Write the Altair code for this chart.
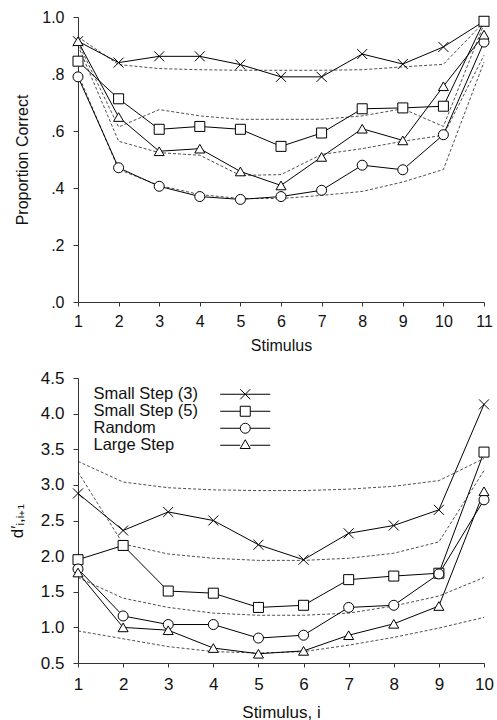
import altair as alt
import pandas as pd

FONT = "Liberation Sans"
SERIES = ["Small Step (3)", "Small Step (5)", "Random", "Large Step"]

# ---- Top panel: proportion correct ----
stim_top = [1, 2, 3, 4, 5, 6, 7, 8, 9, 10, 11]
pc_small3 = [0.915, 0.84, 0.862, 0.862, 0.833, 0.79, 0.79, 0.87, 0.835, 0.895, 0.985]
pc_small5 = [0.845, 0.713, 0.606, 0.616, 0.606, 0.546, 0.593, 0.678, 0.681, 0.687, 0.985]
pc_random = [0.79, 0.471, 0.406, 0.37, 0.36, 0.37, 0.392, 0.48, 0.464, 0.587, 0.912]
pc_large = [0.915, 0.649, 0.529, 0.538, 0.458, 0.409, 0.509, 0.608, 0.567, 0.757, 0.938]

pcm_small3 = [0.93, 0.833, 0.819, 0.815, 0.813, 0.813, 0.813, 0.815, 0.825, 0.834, 0.982]
pcm_small5 = [0.91, 0.614, 0.675, 0.653, 0.641, 0.641, 0.641, 0.653, 0.678, 0.616, 0.975]
pcm_large = [0.90, 0.564, 0.524, 0.515, 0.444, 0.447, 0.518, 0.538, 0.564, 0.585, 0.866]
pcm_random = [0.80, 0.465, 0.409, 0.377, 0.363, 0.363, 0.374, 0.388, 0.421, 0.465, 0.842]

# ---- Bottom panel: d' ----
stim_bot = [1, 2, 3, 4, 5, 6, 7, 8, 9, 10]
d_small3 = [2.88, 2.36, 2.62, 2.50, 2.16, 1.95, 2.32, 2.43, 2.65, 4.13]
d_small5 = [1.95, 2.15, 1.51, 1.48, 1.28, 1.31, 1.67, 1.72, 1.76, 3.46]
d_random = [1.82, 1.16, 1.04, 1.04, 0.85, 0.89, 1.28, 1.31, 1.75, 2.79]
d_large = [1.77, 1.00, 0.96, 0.71, 0.63, 0.67, 0.89, 1.05, 1.30, 2.91]

dm_1 = [3.33, 3.04, 2.96, 2.93, 2.92, 2.92, 2.94, 2.98, 3.06, 3.37]
dm_2 = [3.18, 2.17, 2.03, 1.97, 1.94, 1.94, 1.97, 2.04, 2.20, 3.20]
dm_3 = [1.70, 1.41, 1.28, 1.20, 1.17, 1.17, 1.20, 1.30, 1.44, 1.70]
dm_4 = [0.95, 0.84, 0.73, 0.66, 0.64, 0.66, 0.75, 0.86, 0.99, 1.14]

MARKERS = ["M-1,-1L1,1M-1,1L1,-1", "square", "circle", "triangle-up"]
# legend glyphs: a short line with the marker, drawn to the right of the label
LEGEND_SYMBOLS = [
    "M27,0L37,0M31,-1L33,1M31,1L33,-1",
    "M27,0L31,0M33,0L37,0M31,-1L33,-1L33,1L31,1Z",
    "M27,0L31,0M33,0L37,0M33,0A1,1,0,1,1,31,0A1,1,0,1,1,33,0Z",
    "M27,0L31,0M33,0L37,0M32,-1.1L33,0.65L31,0.65Z",
]


def long_df(xs, arrays, names):
    rows = []
    for name, arr in zip(names, arrays):
        for x, y in zip(xs, arr):
            rows.append({"x": x, "y": y, "series": name})
    return pd.DataFrame(rows)


def panel(xs, obs, model, yaxis, ydomain, xtitle, ytitle, fs, tpad, xlpad, xtpad, legend=False):
    df_obs = long_df(xs, obs, SERIES)
    df_mod = long_df(xs, model, ["m1", "m2", "m3", "m4"])
    xenc = alt.X("x:Q", scale=alt.Scale(domain=[xs[0], xs[-1]], nice=False, zero=False),
                 axis=alt.Axis(values=xs, format="d", title=xtitle, labelFontSize=fs,
                               titleFontSize=fs, labelPadding=xlpad, titlePadding=xtpad,
                               tickSize=4, labelFlush=False))
    yenc = alt.Y("y:Q", scale=alt.Scale(domain=ydomain, nice=False, zero=False),
                 axis=alt.Axis(title=ytitle, labelFontSize=fs, titleFontSize=fs,
                               tickSize=5, labelPadding=9, titlePadding=tpad, **yaxis))
    dashed = alt.Chart(df_mod).mark_line(color="#222", strokeWidth=0.8, strokeDash=[3, 2]).encode(
        x=xenc, y=yenc, detail="series:N")
    solid = alt.Chart(df_obs).mark_line(color="black", strokeWidth=1).encode(
        x=xenc, y=yenc, detail="series:N")
    pts = alt.Chart(df_obs).mark_point(filled=True, fill="white", stroke="black", strokeWidth=1,
                                        size=100, opacity=1).encode(
        x=xenc, y=yenc,
        shape=alt.Shape("series:N", scale=alt.Scale(domain=SERIES, range=MARKERS), legend=None))
    layers = [dashed, solid, pts]
    if legend:
        leg = alt.Chart(df_obs).transform_filter("false").mark_point(
            filled=False, color="black", strokeWidth=1, size=100, opacity=1).encode(
            shape=alt.Shape("series:N", scale=alt.Scale(domain=SERIES, range=LEGEND_SYMBOLS),
                            legend=alt.Legend(orient="none", legendX=-1, legendY=8, title=None,
                                              labelFontSize=16.5, labelFont=FONT, labelColor="#111",
                                              symbolSize=100, symbolStrokeWidth=1,
                                              symbolStrokeColor="black", symbolOpacity=1,
                                              labelOffset=0, rowPadding=0,
                                              padding=0)))
        layers.append(leg)
    ch = alt.layer(*layers).properties(width=406, height=285)
    if legend:
        ch = ch.resolve_scale(shape="independent").resolve_legend(shape="independent")
    return ch


top = panel(stim_top, [pc_small3, pc_small5, pc_random, pc_large],
            [pcm_small3, pcm_small5, pcm_large, pcm_random],
            dict(values=[0, 0.2, 0.4, 0.6, 0.8, 1.0],
                 labelExpr="datum.value == 1 ? '1.0' : replace(format(datum.value, '.1f'), '0.', '.')"),
            [0, 1], "Stimulus", "Proportion Correct", 16, 11, 7, 8)

bottom = panel(stim_bot, [d_small3, d_small5, d_random, d_large],
               [dm_1, dm_2, dm_3, dm_4],
               dict(values=[0.5, 1.0, 1.5, 2.0, 2.5, 3.0, 3.5, 4.0, 4.5], format=".1f"),
               [0.5, 4.5], "Stimulus, i", "d′ᵢ,ᵢ₊₁", 17, 14, 9, 12, legend=True)

chart = alt.vconcat(top, bottom, spacing=76, bounds="flush").properties(
    padding={"left": 8, "top": 9, "right": 0, "bottom": 0}
).configure(font=FONT).configure_view(stroke=None).configure_axis(
    grid=False, domainColor="#333", tickColor="#333", labelColor="#111", titleColor="#111",
    labelFont=FONT, titleFont=FONT, titleFontWeight="normal")

chart.save("out.html", embed_options={"renderer": "svg", "actions": False})
